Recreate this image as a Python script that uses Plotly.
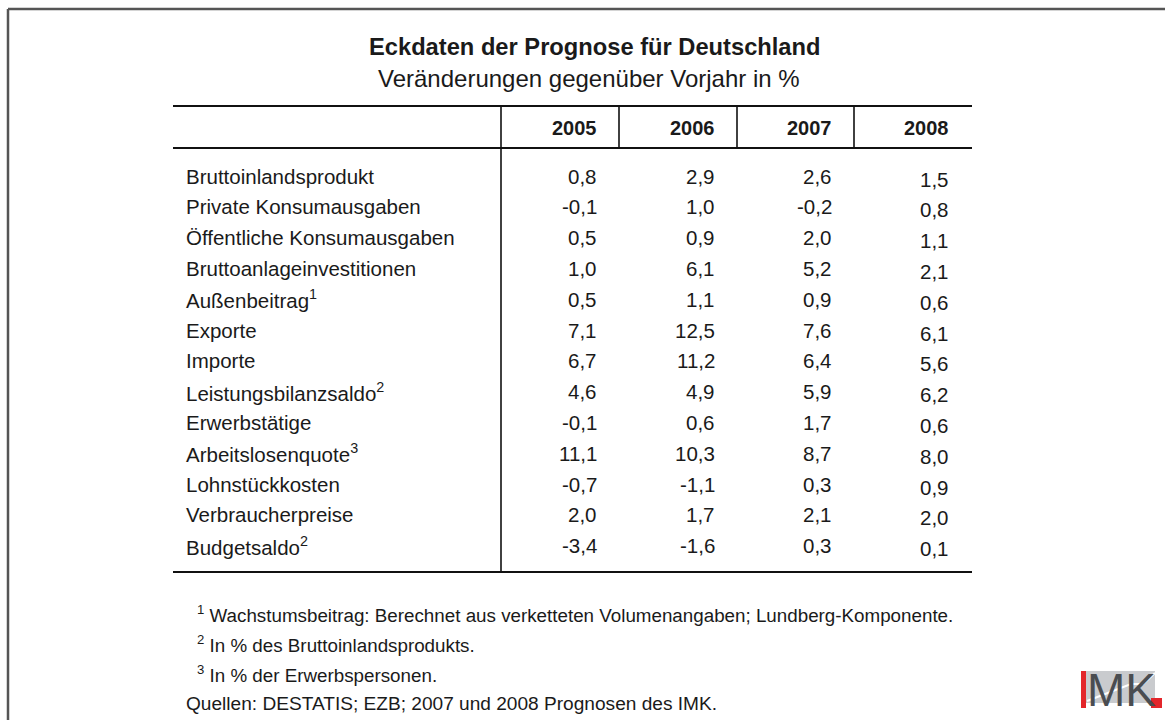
import plotly.graph_objects as go

W, H = 1165, 720

title = "Eckdaten der Prognose für Deutschland"
subtitle = "Veränderungen gegenüber Vorjahr in %"
years = ["2005", "2006", "2007", "2008"]
rows = [
    "Bruttoinlandsprodukt",
    "Private Konsumausgaben",
    "Öffentliche Konsumausgaben",
    "Bruttoanlageinvestitionen",
    "Außenbeitrag<sup>1</sup>",
    "Exporte",
    "Importe",
    "Leistungsbilanzsaldo<sup>2</sup>",
    "Erwerbstätige",
    "Arbeitslosenquote<sup>3</sup>",
    "Lohnstückkosten",
    "Verbraucherpreise",
    "Budgetsaldo<sup>2</sup>",
]
v2005 = [0.8, -0.1, 0.5, 1.0, 0.5, 7.1, 6.7, 4.6, -0.1, 11.1, -0.7, 2.0, -3.4]
v2006 = [2.9, 1.0, 0.9, 6.1, 1.1, 12.5, 11.2, 4.9, 0.6, 10.3, -1.1, 1.7, -1.6]
v2007 = [2.6, -0.2, 2.0, 5.2, 0.9, 7.6, 6.4, 5.9, 1.7, 8.7, 0.3, 2.1, 0.3]
v2008 = [1.5, 0.8, 1.1, 2.1, 0.6, 6.1, 5.6, 6.2, 0.6, 8.0, 0.9, 2.0, 0.1]
footnotes = [
    "<sup>1</sup> Wachstumsbeitrag: Berechnet aus verketteten Volumenangaben; Lundberg-Komponente.",
    "<sup>2</sup> In % des Bruttoinlandsprodukts.",
    "<sup>3</sup> In % der Erwerbspersonen.",
]
source = "Quellen: DESTATIS; EZB; 2007 und 2008 Prognosen des IMK."

FONT = "Liberation Sans, Arial, sans-serif"
TXT = "#1a1a1a"

# layout geometry (pixel space)
tbl_l, tbl_r = 173, 972
top_y, head_y, bot_y = 106, 148, 572
col_sep = [501, 619, 737, 854]
col_right = [598, 716, 833, 950]
col_dy = [0, 0, 0, 3]
label_x = 184
row0, row_h = 176, 30.8
header_center = 128

fig = go.Figure()
fig.add_trace(go.Scatter(x=[0, W], y=[0, H], mode="markers",
                         marker=dict(opacity=0), hoverinfo="skip", showlegend=False))

ann = []
def A(x, y, text, size, xanchor="left", bold=False, color=TXT, family=FONT):
    ann.append(dict(x=x, y=y, xref="x", yref="y", text=("<b>%s</b>" % text) if bold else text,
                    showarrow=False, xanchor=xanchor, yanchor="middle",
                    font=dict(family=family, size=size, color=color)))

A(594, 47, title, 23.7, "center", bold=True)
A(589, 78, subtitle, 24, "center")

for j, y in enumerate(years):
    A(col_right[j] + 1, header_center, y, 20, "right", bold=True)

cols = [v2005, v2006, v2007, v2008]
for i, lab in enumerate(rows):
    yy = row0 + i * row_h
    A(label_x, yy, lab, 20.5, "left")
    for j, col in enumerate(cols):
        s = ("%.1f" % col[i]).replace(".", ",")
        A(col_right[j] + 1, yy + col_dy[j], s, 20.5, "right")

fn_y = [614, 644, 674]
for k, t in enumerate(footnotes):
    A(195, fn_y[k], t, 18.8, "left")
A(184, 703, source, 19.1, "left")

shapes = []
def L(x0, y0, x1, y1, w=2, c="#111111"):
    shapes.append(dict(type="line", xref="x", yref="y", x0=x0, y0=y0, x1=x1, y1=y1,
                       line=dict(color=c, width=w)))

# outer frame (top & left)
L(8, 9, W + 5, 9, 2.5, "#555555")
L(8, 9, 8, H + 5, 2.5, "#555555")
# table rules
L(tbl_l, top_y, tbl_r, top_y, 2)
L(tbl_l, head_y, tbl_r, head_y, 2)
L(tbl_l, bot_y, tbl_r, bot_y, 2)
L(col_sep[0], top_y, col_sep[0], bot_y, 1.6)
for xs in col_sep[1:]:
    L(xs, top_y, xs, head_y, 1.6)

# IMK logo
shapes.append(dict(type="rect", xref="x", yref="y", x0=1086, y0=671, x1=1155, y1=703,
                   fillcolor="#c9cbce", line=dict(width=0)))
shapes.append(dict(type="path", xref="x", yref="y",
                   path="M 1087 701 L 1131 684 L 1143 684 L 1155 673",
                   line=dict(color="white", width=2)))
shapes.append(dict(type="rect", xref="x", yref="y", x0=1081, y0=671, x1=1086, y1=708,
                   fillcolor="#e3262b", line=dict(width=0)))
shapes.append(dict(type="rect", xref="x", yref="y", x0=1151, y0=698, x1=1162, y1=708,
                   fillcolor="#e3262b", line=dict(width=0)))
A(1121, 690, "MK", 46, "center", color="#4a4d51",
  family="Liberation Sans Narrow, Arial Narrow, Liberation Sans, sans-serif")

fig.update_layout(
    width=W, height=H, margin=dict(l=0, r=0, t=0, b=0),
    paper_bgcolor="white", plot_bgcolor="white",
    xaxis=dict(range=[0, W], visible=False, fixedrange=True),
    yaxis=dict(range=[H, 0], visible=False, fixedrange=True),
    annotations=ann, shapes=shapes, showlegend=False,
)
fig.write_html("out.html", config={"displayModeBar": False},
               post_script="document.body.style.margin='0';document.body.style.overflow='hidden';")
